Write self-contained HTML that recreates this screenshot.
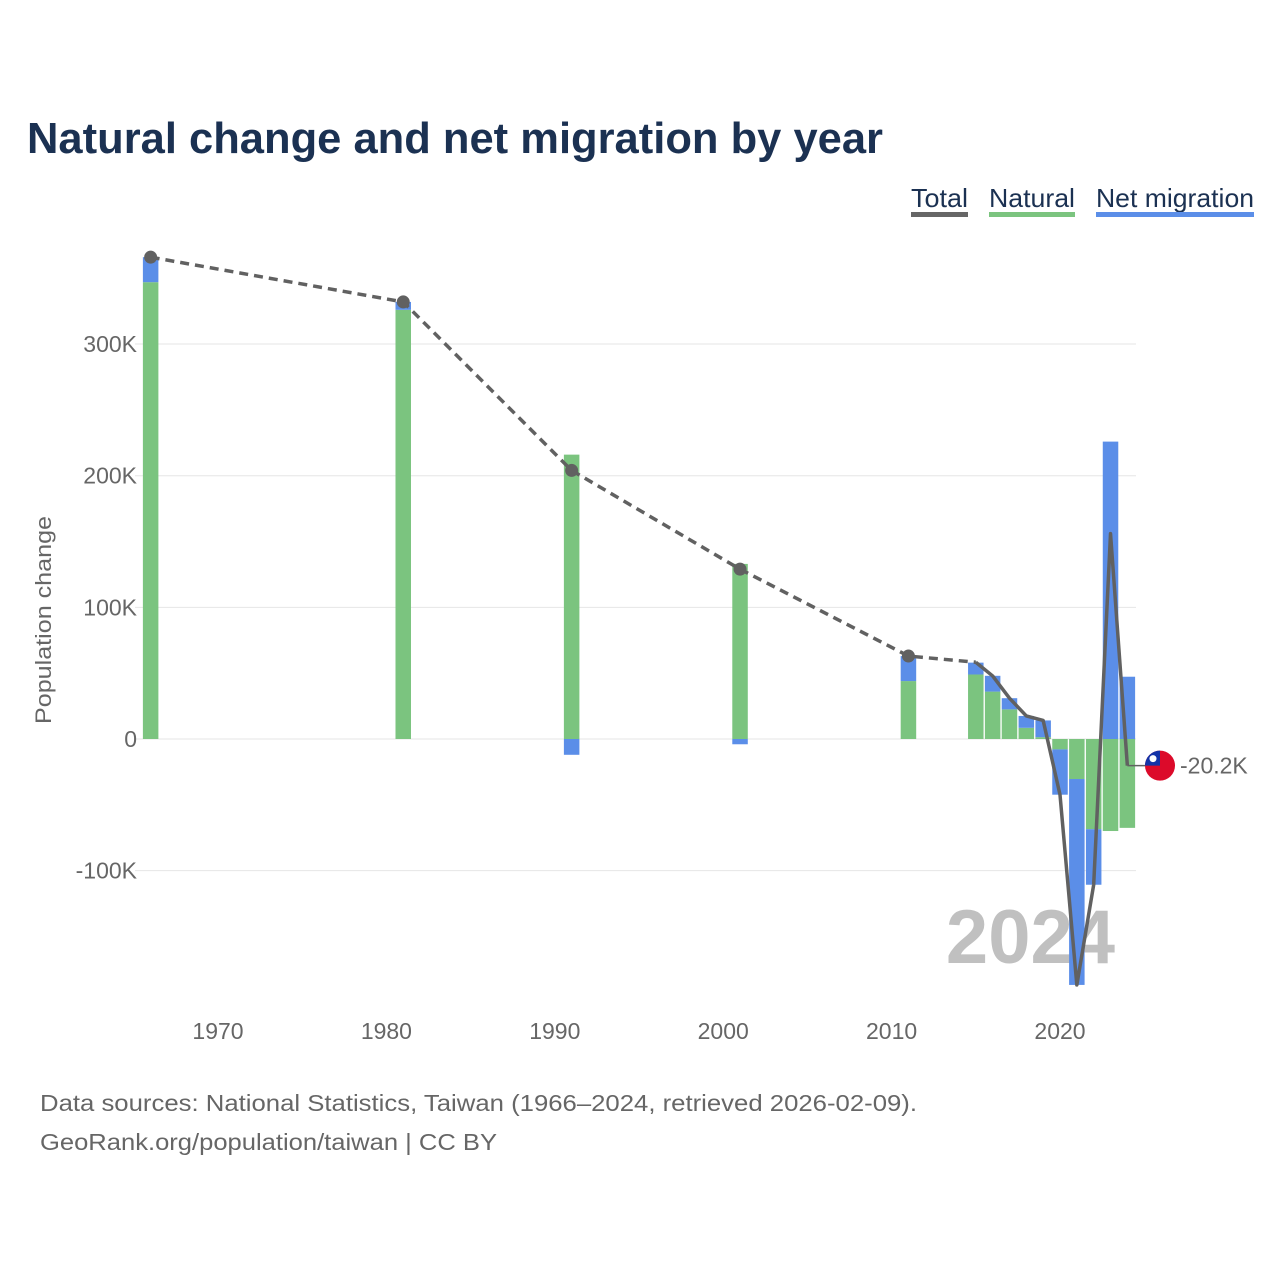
<!DOCTYPE html>
<html><head><meta charset="utf-8">
<style>
body{margin:0;background:#fff;width:1280px;height:1280px;overflow:hidden;font-family:"Liberation Sans",sans-serif}
svg{display:block}
</style></head>
<body>
<svg id="chart" width="1280" height="1280" viewBox="0 0 1280 1280">
<text x="27" y="153" font-size="44" font-weight="bold" fill="#1b3152" textLength="856" lengthAdjust="spacingAndGlyphs">Natural change and net migration by year</text>
<g>
<g><text x="911" y="207" font-size="26" fill="#1b3152" textLength="57" lengthAdjust="spacingAndGlyphs">Total</text><rect x="911" y="212" width="57" height="5" fill="#666"/></g>
<g><text x="989" y="207" font-size="26" fill="#1b3152" textLength="86" lengthAdjust="spacingAndGlyphs">Natural</text><rect x="989" y="212" width="86" height="5" fill="#7bc47f"/></g>
<g><text x="1096" y="207" font-size="26" fill="#1b3152" textLength="158" lengthAdjust="spacingAndGlyphs">Net migration</text><rect x="1096" y="212" width="158" height="5" fill="#5b8ee8"/></g>
</g>
<g id="grid"></g>
<text x="1115" y="963" font-size="76" font-weight="bold" fill="#c0c0c0" text-anchor="end">2024</text>
<g id="bars"></g>
<g id="lines"></g>
<g id="xaxis"></g>
<text transform="translate(51,620) rotate(-90)" font-size="22" fill="#666" text-anchor="middle" textLength="208" lengthAdjust="spacingAndGlyphs">Population change</text>
<g font-size="23" fill="#666">
<text x="40" y="1111" textLength="877" lengthAdjust="spacingAndGlyphs">Data sources: National Statistics, Taiwan (1966–2024, retrieved 2026-02-09).</text>
<text x="40" y="1150" textLength="457" lengthAdjust="spacingAndGlyphs">GeoRank.org/population/taiwan | CC BY</text>
</g>
</svg>
<script>
const years=[1966,1981,1991,2001,2011,2015,2016,2017,2018,2019,2020,2021,2022,2023,2024];
const natural=[347,326,216,133,44,49,36,22.5,8.5,1.4,-7.9,-30.4,-68.5,-69.9,-67.5];
const migration=[19,6,-12,-4,19,9,12,8.5,9,12.7,-34.4,-156.4,-42.2,225.9,47.3];
const totals=[366,332,204,129,63,58.3,47.9,31,17.5,14.1,-42.3,-186.8,-110.7,156,-20.2];
const yTicks=[-100,0,100,200,300];
const yTickLabels=["-100K","0","100K","200K","300K"];
const xTicks=[1970,1980,1990,2000,2010,2020];
const NS="http://www.w3.org/2000/svg";
const X=y=>218+(y-1970)*16.84;
const Y=v=>739-v*1.3165;
function mk(tag,attrs,parent){const e=document.createElementNS(NS,tag);for(const k in attrs)e.setAttribute(k,attrs[k]);parent.appendChild(e);return e;}
const grid=document.getElementById('grid'),bars=document.getElementById('bars'),lines=document.getElementById('lines'),xa=document.getElementById('xaxis');
yTicks.forEach((t,i)=>{
 const l=mk('line',{x1:135,x2:1136,y1:Y(t),y2:Y(t),stroke:'#e6e6e6','stroke-width':1},grid);
 
 
 const tx=mk('text',{x:137,y:Y(t)+8,'font-size':23,fill:'#666','text-anchor':'end'},grid);
 tx.textContent=yTickLabels[i];
 
 
});
xTicks.forEach(t=>{
 const tx=mk('text',{x:X(t),y:1039,'font-size':23,fill:'#666','text-anchor':'middle'},xa);
 tx.textContent=t;
 
 
});
const bw=15.5;
years.forEach((yr,i)=>{
 const x=X(yr)-bw/2,n=natural[i],m=migration[i];
 const r1=mk('rect',{x:x,width:bw,y:Math.min(Y(0),Y(n)),height:Math.abs(Y(n)-Y(0)),fill:'#7bc47f'},bars);
 
 
 let base=(m*n>0)?n:0;
 const r2=mk('rect',{x:x,width:bw,y:Math.min(Y(base),Y(base+m)),height:Math.abs(Y(base+m)-Y(base)),fill:'#5b8ee8'},bars);
 
 
});
const dashIdx=[0,1,2,3,4,5];
const dp=dashIdx.map(i=>X(years[i])+','+Y(totals[i])).join(' ');
const dl=mk('polyline',{points:dp,fill:'none',stroke:'#616161','stroke-width':3.5,'stroke-dasharray':'9,6'},lines);


const sp=years.slice(5).map((y,k)=>X(y)+','+Y(totals[k+5])).join(' ');
const sl=mk('polyline',{points:sp,fill:'none',stroke:'#616161','stroke-width':3.5,'stroke-linejoin':'round'},lines);


[0,1,2,3,4].forEach(i=>{
 const c=mk('circle',{cx:X(years[i]),cy:Y(totals[i]),r:6.5,fill:'#616161'},lines);
 
 
});
const last=totals[totals.length-1],ly=Y(last);
const tl=mk('line',{x1:X(2024),x2:1146,y1:ly,y2:ly,stroke:'#616161','stroke-width':1.5},lines);


const fg=mk('g',{},lines);


mk('circle',{cx:1160,cy:ly,r:15,fill:'#dc0a2a'},fg);
mk('path',{d:`M1145 ${ly} A15 15 0 0 1 1160 ${ly-15} L1160 ${ly} Z`,fill:'#1333a8'},fg);
mk('circle',{cx:1153,cy:ly-7,r:3.5,fill:'#fff'},fg);
const lt=mk('text',{x:1180,y:ly+8,'font-size':23,fill:'#666'},lines);
lt.textContent=(last>0?'':'-')+Math.abs(last).toFixed(1)+'K';


</script>
</body></html>
